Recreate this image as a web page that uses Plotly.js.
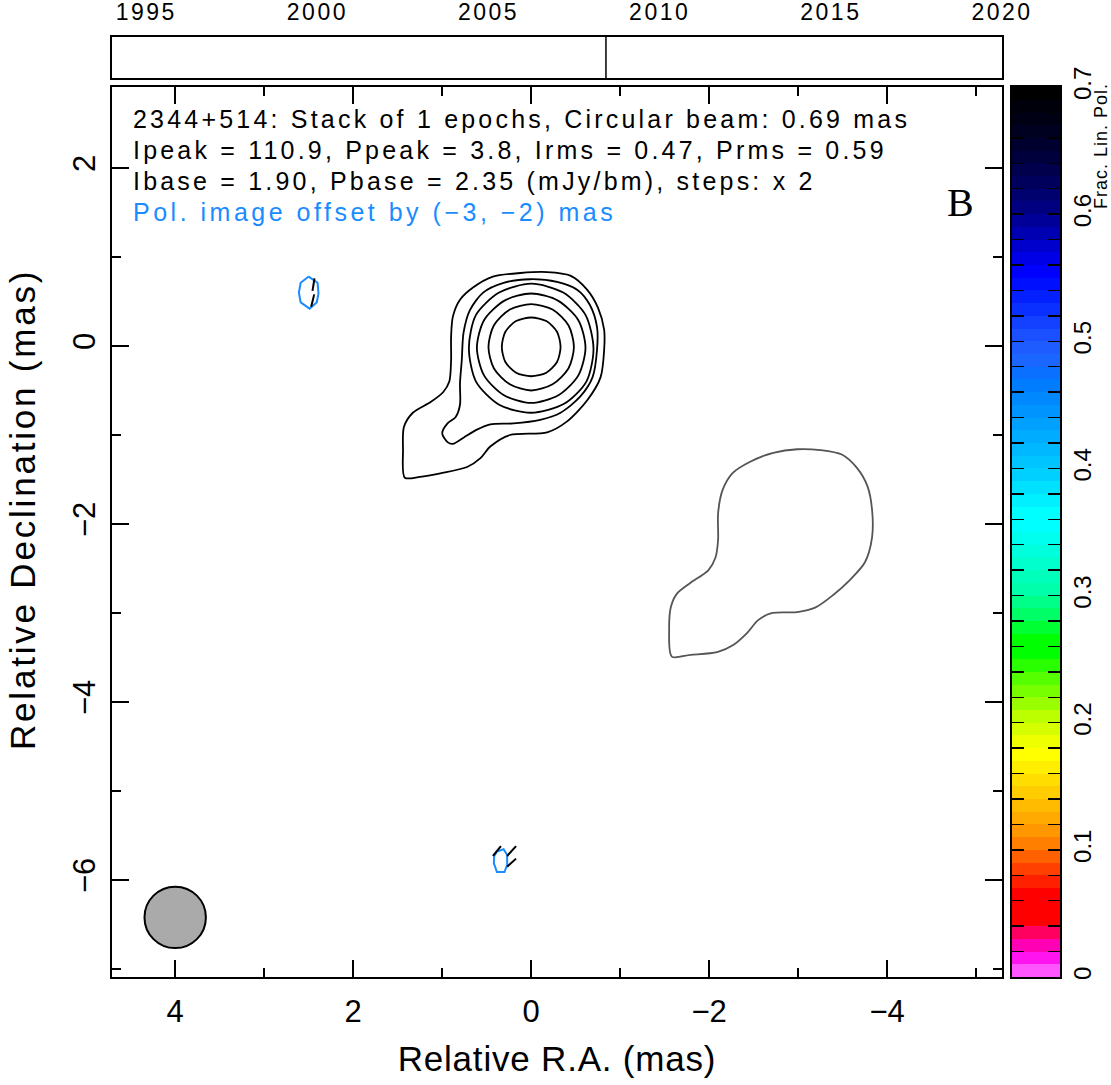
<!DOCTYPE html>
<html><head><meta charset="utf-8">
<script src="https://cdn.plot.ly/plotly-3.0.1.min.js"></script>
<style>html,body{margin:0;padding:0;background:#fff}</style>
</head><body><div id="chart" style="width:1111px;height:1085px"></div>
<script>
// ---------------- data ----------------
const timelineRange = [1994, 2020];
const yearTicks = [1995, 2000, 2005, 2010, 2015, 2020];
const epochYears = [2008.43];

const raRange = [4.71, -5.29];
const decRange = [-7.09, 2.91];
const raTicks = [4, 2, 0, -2, -4];
const decTicks = [2, 0, -2, -4, -6];

// Stokes I contours (mas)
const cI1x = [0.33, 0.29, 0.17, 0.00, -0.17, -0.29, -0.33, -0.29, -0.17, 0.00, 0.17, 0.29, 0.33];
const cI1y = [-0.01, 0.16, 0.28, 0.32, 0.28, 0.16, -0.01, -0.18, -0.30, -0.34, -0.30, -0.18, -0.01];
const cI2x = [0.48, 0.42, 0.24, 0.00, -0.24, -0.42, -0.48, -0.42, -0.24, 0.00, 0.24, 0.42, 0.48];
const cI2y = [-0.01, 0.23, 0.41, 0.47, 0.41, 0.23, -0.01, -0.25, -0.43, -0.50, -0.43, -0.25, -0.01];
const cI3x = [0.61, 0.53, 0.30, 0.00, -0.30, -0.53, -0.61, -0.53, -0.31, 0.00, 0.31, 0.53, 0.61];
const cI3y = [-0.02, 0.29, 0.51, 0.59, 0.51, 0.29, -0.02, -0.33, -0.55, -0.64, -0.55, -0.33, -0.02];
const cI4x = [0.70, 0.62, 0.36, 0.00, -0.36, -0.61, -0.70, -0.62, -0.37, 0.00, 0.36, 0.62, 0.70];
const cI4y = [-0.02, 0.35, 0.60, 0.70, 0.60, 0.35, -0.03, -0.40, -0.65, -0.75, -0.66, -0.40, -0.02];
const cI5x = [0.80, 0.80, 0.78, 0.76, 0.69, 0.54, 0.31, 0.01, -0.29, -0.52, -0.66, -0.74, -0.74, -0.69, -0.55, -0.33, -0.10, 0.20, 0.46, 0.61, 0.76, 0.88, 0.94, 1.00, 0.94, 0.85, 0.80];
const cI5y = [-0.66, -0.42, -0.16, 0.15, 0.40, 0.60, 0.71, 0.75, 0.72, 0.63, 0.46, 0.21, -0.04, -0.35, -0.57, -0.75, -0.83, -0.87, -0.88, -0.94, -1.03, -1.10, -1.08, -0.98, -0.87, -0.80, -0.66];
const cI6x = [1.42, 1.44, 1.43, 1.33, 1.13, 0.99, 0.92, 0.90, 0.90, 0.88, 0.80, 0.65, 0.43, 0.12, -0.18, -0.44, -0.63, -0.75, -0.82, -0.82, -0.78, -0.63, -0.40, -0.18, 0.24, 0.46, 0.57, 0.72, 1.02, 1.25, 1.42];
const cI6y = [-1.48, -1.17, -0.91, -0.75, -0.63, -0.52, -0.40, -0.16, 0.10, 0.33, 0.52, 0.66, 0.78, 0.82, 0.83, 0.79, 0.63, 0.43, 0.18, -0.04, -0.35, -0.61, -0.85, -0.97, -1.00, -1.13, -1.26, -1.36, -1.43, -1.47, -1.48];

// Base contour of the offset polarization image (grey)
const cPbx = [-1.58, -1.55, -1.57, -1.64, -1.79, -1.99, -2.07, -2.10, -2.10, -2.15, -2.26, -2.46, -2.72, -2.99, -3.25, -3.49, -3.66, -3.78, -3.83, -3.83, -3.75, -3.58, -3.39, -3.19, -2.99, -2.71, -2.55, -2.43, -2.27, -2.09, -1.79, -1.58];
const cPby = [-3.49, -3.19, -2.93, -2.78, -2.66, -2.52, -2.38, -2.18, -1.88, -1.62, -1.43, -1.30, -1.20, -1.16, -1.17, -1.22, -1.37, -1.58, -1.84, -2.15, -2.43, -2.63, -2.80, -2.94, -2.99, -3.00, -3.08, -3.22, -3.36, -3.44, -3.47, -3.49];

// Polarized intensity contours (blue)
const cP1x = [2.50, 2.40, 2.39, 2.41, 2.49, 2.59, 2.61, 2.59, 2.50];
const cP1y = [0.78, 0.71, 0.59, 0.49, 0.42, 0.49, 0.60, 0.71, 0.78];
const cP2x = [0.385, 0.31, 0.27, 0.27, 0.30, 0.385, 0.42, 0.415, 0.385];
const cP2y = [-5.68, -5.655, -5.72, -5.83, -5.91, -5.91, -5.81, -5.73, -5.68];

// EVPA sticks (segments separated by null)
const evpaX = [2.435, 2.457, null, 2.438, 2.472, null, 0.43, 0.34, null, 0.27, 0.17, null, 0.27, 0.17];
const evpaY = [0.76, 0.62, null, 0.58, 0.44, null, -5.73, -5.62, null, -5.73, -5.62, null, -5.85, -5.76];

// Restoring beam
const beamCenter = [4.0, -6.42];
const beamDiameter = 0.69;

// Fractional polarization colour bar
const fpolMax = 0.7;
const fpolTicks = [0, 0.1, 0.2, 0.3, 0.4, 0.5, 0.6, 0.7];
const fpolTickText = ['0', '0.1', '0.2', '0.3', '0.4', '0.5', '0.6', '0.7'];
const fpolBandColors = [
 '#ff55ff','#ff14f0','#ff00b4','#ff0060','#ff0000','#ff0000','#ff0000','#ff2000','#ff4000','#ff6000',
 '#ff8000','#ff9800','#ffaa00','#ffbb00','#ffcc00','#ffdd00','#ffee00','#ffff00','#eeff00','#d5ff00',
 '#bbff00','#99ff00','#77ff00','#55ff00','#2aff00','#00ff00','#00ff00','#00ff33','#00ff66','#00ff88',
 '#00ffaa','#00ffbb','#00ffcc','#00ffdd','#00ffee','#00ffff','#00ffff','#00f0ff','#00e0ff','#00d0ff',
 '#00c4ff','#00b8ff','#00acff','#00a0ff','#0094ff','#0088ff','#007cff','#0a70ff','#1a66ff','#1f5cff',
 '#1a50ff','#1440ff','#0a30ff','#0520ff','#0010ff','#0000ff','#0000e6','#0000cc','#0000b3','#000099',
 '#000080','#00006e','#00005c','#00004c','#00003c','#00002e','#000020','#000014','#00000a','#000000'];

const infoLines = [
  '2344+514: Stack of 1 epochs, Circular beam: 0.69 mas',
  'Ipeak = 110.9, Ppeak = 3.8, Irms = 0.47, Prms = 0.59',
  'Ibase = 1.90, Pbase = 2.35 (mJy/bm), steps: x 2'
];
const offsetLine = 'Pol. image offset by (\u22123, \u22122) mas';
const panelLabel = 'B';
const colorbarTitle = 'Frac. Lin. Pol.';
const xTitle = 'Relative R.A. (mas)';
const yTitle = 'Relative Declination (mas)';

// ---------------- layout helpers ----------------
const L = 112, R = 51, T = 37, B = 108;
const W = 1111 - L - R, H = 1085 - T - B;
const BOTTOM = 1085 - B;
const px = v => (v - L) / W;
const py = v => (BOTTOM - v) / H;
const mainXd = [0, 890 / W];
const mainYd = [0, 890 / H];

const fAxis = '"Liberation Sans", Arial, sans-serif';
const fHelv = '"Liberation Sans", Arial, sans-serif';
const sp = (t, s) => '<span style="letter-spacing:' + s + 'px">' + t + '</span>';

const lineStyle = (c, w) => ({color: c, width: w, shape: 'spline', smoothing: 0.8});
const traces = [];
[[cI1x, cI1y], [cI2x, cI2y], [cI3x, cI3y], [cI4x, cI4y], [cI5x, cI5y], [cI6x, cI6y]].forEach(([x, y]) => {
  traces.push({type: 'scatter', mode: 'lines', x: x, y: y, line: lineStyle('#000', 1.8), hoverinfo: 'skip'});
});
traces.push({type: 'scatter', mode: 'lines', x: cPbx, y: cPby, line: lineStyle('#555', 1.8), hoverinfo: 'skip'});
[[cP1x, cP1y], [cP2x, cP2y]].forEach(([x, y]) => {
  traces.push({type: 'scatter', mode: 'lines', x: x, y: y, line: {color: '#1a8cff', width: 2}, hoverinfo: 'skip'});
});
traces.push({type: 'scatter', mode: 'lines', x: evpaX, y: evpaY, line: {color: '#000', width: 2}, connectgaps: false, hoverinfo: 'skip'});

// timeline epoch line
traces.push({type: 'scatter', mode: 'lines', xaxis: 'x2', yaxis: 'y2',
  x: epochYears.flatMap(e => [e, e, null]), y: epochYears.flatMap(() => [0, 1, null]),
  line: {color: '#000', width: 1.5}, hoverinfo: 'skip'});

// colour bar
const nB = fpolBandColors.length;
const bandCenters = fpolBandColors.map((c, i) => (i + 0.5) * fpolMax / nB);
const cs = [];
fpolBandColors.forEach((c, i) => { cs.push([i / nB, c]); cs.push([(i + 1) / nB, c]); });
traces.push({type: 'heatmap', xaxis: 'x3', yaxis: 'y3', x: [0], y: bandCenters,
  z: bandCenters.map(v => [v]), zmin: 0, zmax: fpolMax, colorscale: cs, showscale: false, hoverinfo: 'skip'});

const annotations = [];
infoLines.forEach((t, i) => {
  annotations.push({xref: 'paper', yref: 'paper', x: px(131), y: py(119 + 31 * i), xanchor: 'left', yanchor: 'middle',
    text: sp(t, 3.2), showarrow: false, font: {family: fHelv, size: 25, color: '#000'}});
});
annotations.push({xref: 'paper', yref: 'paper', x: px(131), y: py(212), xanchor: 'left', yanchor: 'middle',
  text: sp(offsetLine, 3.5), showarrow: false, font: {family: fHelv, size: 25, color: '#1a8cff'}});
annotations.push({xref: 'paper', yref: 'paper', x: px(960), y: py(203), xanchor: 'center', yanchor: 'middle',
  text: panelLabel, showarrow: false, font: {family: '"Liberation Serif", "DejaVu Serif", serif', size: 40, color: '#000'}});
annotations.push({xref: 'paper', yref: 'paper', x: px(1101), y: py(146), xanchor: 'center', yanchor: 'middle', textangle: -90,
  text: sp(colorbarTitle, 1), showarrow: false, font: {family: fHelv, size: 18, color: '#000'}});
annotations.push({xref: 'paper', yref: 'paper', x: px(22), y: py(510), xanchor: 'center', yanchor: 'middle', textangle: -90,
  text: sp(yTitle, 2.8), showarrow: false, font: {family: fAxis, size: 35, color: '#000'}});

const baseAx = {showgrid: false, zeroline: false, showline: true, linecolor: '#000', linewidth: 2, color: '#000'};

const layout = {
  width: 1111, height: 1085,
  margin: {l: L, r: R, t: T, b: B, pad: 0},
  paper_bgcolor: '#fff', plot_bgcolor: '#fff', showlegend: false,
  xaxis: Object.assign({}, baseAx, {domain: mainXd, anchor: 'y', range: raRange, tickmode: 'array', tickvals: raTicks,
    ticks: 'inside', ticklen: 17, tickwidth: 1.5, tickcolor: '#000', mirror: 'allticks',
    minor: {dtick: 1, tick0: 0, ticks: 'inside', ticklen: 9, tickwidth: 1.5, tickcolor: '#000'},
    tickfont: {family: fAxis, size: 31, color: '#000'}, ticklabelstandoff: 6,
    title: {text: sp(xTitle, 0.8), font: {family: fAxis, size: 35, color: '#000'}, standoff: 18}}),
  yaxis: Object.assign({}, baseAx, {domain: mainYd, anchor: 'x', range: decRange, tickmode: 'array', tickvals: decTicks,
    ticks: 'inside', ticklen: 17, tickwidth: 1.5, tickcolor: '#000', mirror: 'allticks', tickangle: -90,
    minor: {dtick: 1, tick0: 0, ticks: 'inside', ticklen: 9, tickwidth: 1.5, tickcolor: '#000'},
    tickfont: {family: fAxis, size: 31, color: '#000'}, ticklabelstandoff: 3}),
  xaxis2: Object.assign({}, baseAx, {domain: mainXd, anchor: 'y2', range: timelineRange, side: 'top', mirror: true,
    tickmode: 'array', tickvals: yearTicks, ticktext: yearTicks.map(y => sp(String(y), 2.5)), ticks: '',
    tickfont: {family: fHelv, size: 23, color: '#000'}, ticklabelstandoff: 6}),
  yaxis2: Object.assign({}, baseAx, {domain: [py(78), 1], anchor: 'x2', range: [0, 1], mirror: true,
    showticklabels: false, ticks: ''}),
  xaxis3: Object.assign({}, baseAx, {domain: [px(1012), 1], anchor: 'y3', range: [-0.5, 0.5], mirror: true,
    showticklabels: false, ticks: ''}),
  yaxis3: Object.assign({}, baseAx, {domain: mainYd, anchor: 'x3', side: 'right', range: [0, fpolMax], mirror: 'allticks',
    tickmode: 'array', tickvals: fpolTicks, ticktext: fpolTickText, ticks: 'inside', ticklen: 12, tickwidth: 1.5, tickcolor: '#000',
    minor: {dtick: 0.02, tick0: 0, ticks: 'inside', ticklen: 12, tickwidth: 1.5, tickcolor: '#000'},
    tickangle: -90, tickfont: {family: fHelv, size: 24, color: '#000'}, ticklabelstandoff: 0}),
  shapes: [{type: 'circle', xref: 'x', yref: 'y',
    x0: beamCenter[0] + beamDiameter / 2, x1: beamCenter[0] - beamDiameter / 2,
    y0: beamCenter[1] - beamDiameter / 2, y1: beamCenter[1] + beamDiameter / 2,
    fillcolor: '#aaaaaa', line: {color: '#000', width: 2}, layer: 'above'}],
  annotations: annotations
};

Plotly.newPlot('chart', traces, layout, {staticPlot: true, displayModeBar: false});
</script>
</body></html>
